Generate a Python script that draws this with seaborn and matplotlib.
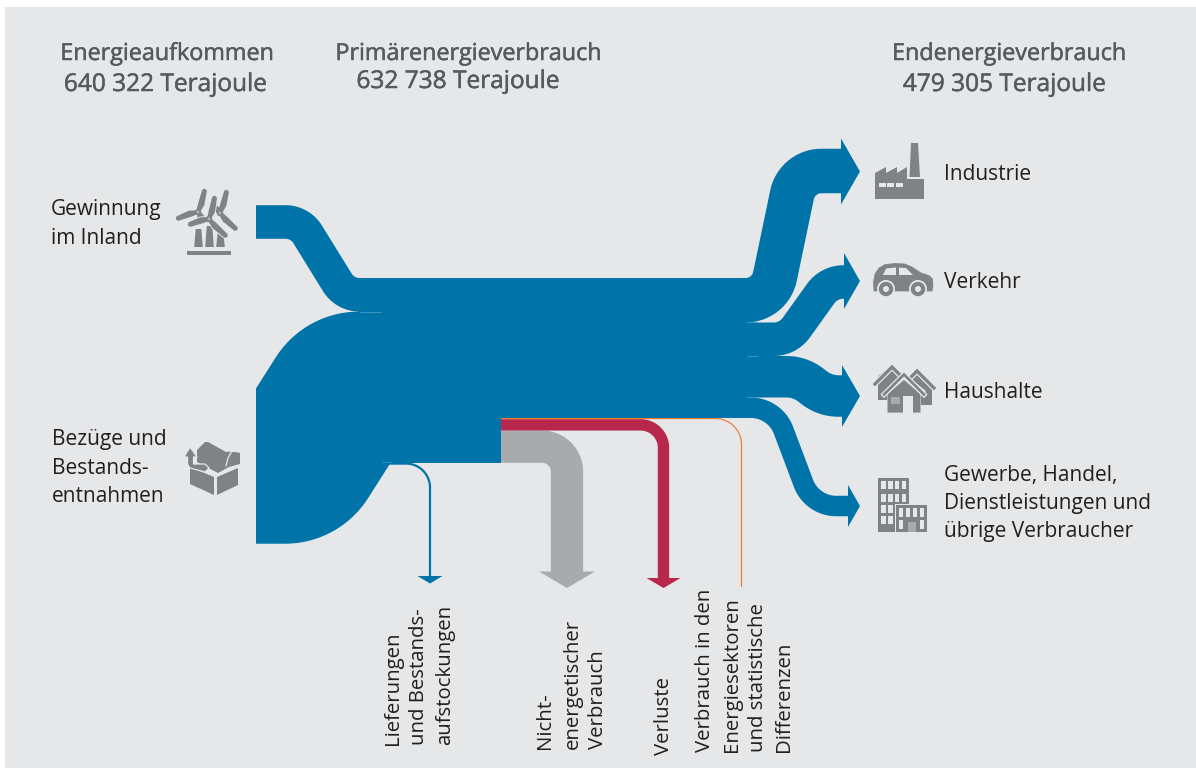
import numpy as np
import matplotlib
matplotlib.use("Agg")
import matplotlib.pyplot as plt
import matplotlib.patheffects as pe
from matplotlib.path import Path
from matplotlib.patches import PathPatch, Rectangle, Polygon, Circle
import seaborn as sns

# ---------- data (Terajoule) ----------
header_titles = ["Energieaufkommen", "Primärenergieverbrauch", "Endenergieverbrauch"]
header_values = [640322, 632738, 479305]
source_values = [115000, 525322]              # Gewinnung im Inland, Bezüge und Bestandsentnahmen
export_value = 7584                           # Lieferungen und Bestandsaufstockungen
loss_values = [4000, 39000, 110433]           # Energiesektoren, Verluste, Nichtenergetisch
end_values = [152369, 114700, 142100, 70136]  # Industrie, Verkehr, Haushalte, GHD
source_labels = [["Gewinnung", "im Inland"], ["Bezüge und", "Bestands-", "entnahmen"]]
end_labels = [["Industrie"], ["Verkehr"], ["Haushalte"],
              ["Gewerbe, Handel,", "Dienstleistungen und", "übrige Verbraucher"]]
bottom_labels = [["Lieferungen", "und Bestands-", "aufstockungen"],
                 ["Nicht-", "energetischer", "Verbrauch"],
                 ["Verluste"],
                 ["Verbrauch in den", "Energiesektoren", "und statistische", "Differenzen"]]

# ---------- style ----------
BLUE, RED, GREY, ORANGE = "#0074A8", "#B8274C", "#A9AAAD", "#F07A28"
PANEL, ICON, HEAD, INK = "#E6E7E9", "#808285", "#58595B", "#1F1F1F"
TJ_PER_PX = 640322 / 187.0

sns.set_theme(style="white")
plt.rcParams["font.family"] = ["Open Sans", "DejaVu Sans"]
fig = plt.figure(figsize=(11.96, 7.68), dpi=100, facecolor="white")
ax = fig.add_axes([0, 0, 1, 1])
ax.set_xlim(0, 1196)
ax.set_ylim(768, 0)
ax.axis("off")
ax.add_patch(Rectangle((5, 7), 1191, 761, fc=PANEL, ec="none", zorder=0))


def px(v):
    return v / TJ_PER_PX


def centerline(points, radii):
    """Polyline with rounded corners, densely sampled."""
    pts = [np.array(p, float) for p in points]
    out = [pts[0]]
    for i in range(1, len(pts) - 1):
        a, b, c = pts[i - 1], pts[i], pts[i + 1]
        u = (b - a) / np.linalg.norm(b - a)
        v = (c - b) / np.linalg.norm(c - b)
        ang = np.arccos(np.clip(u @ v, -1, 1))
        r = radii[i - 1]
        t = r * np.tan(ang / 2)
        s, e = b - u * t, b + v * t
        n = np.array([-u[1], u[0]])
        if n @ v < 0:
            n = -n
        cen = s + n * r
        for k in np.linspace(0, 1, 60):
            th = k * ang
            out.append(cen - n * r * np.cos(th) + u * r * np.sin(th))
        out.append(e)
    out.append(pts[-1])
    res = [out[0]]
    for p in out[1:]:
        q = res[-1]
        d = np.linalg.norm(p - q)
        if d < 1e-9:
            continue
        m = max(1, int(d / 2))
        for k in range(1, m + 1):
            res.append(q + (p - q) * k / m)
    return np.array(res)


def band(points, radii, width, color, z=2, clip=None):
    c = centerline(points, radii)
    d = np.gradient(c, axis=0)
    d /= np.linalg.norm(d, axis=1, keepdims=True)
    nrm = np.c_[-d[:, 1], d[:, 0]]
    a, b = c + nrm * width / 2, c - nrm * width / 2
    verts, codes = [], []
    for i in range(len(c) - 1):
        q = np.array([a[i], a[i + 1], b[i + 1], b[i]])
        area = 0.5 * np.sum(q[:, 0] * np.roll(q[:, 1], -1) - np.roll(q[:, 0], -1) * q[:, 1])
        if area < 0:
            q = q[::-1]
        verts += list(q) + [q[0]]
        codes += [Path.MOVETO, Path.LINETO, Path.LINETO, Path.LINETO, Path.CLOSEPOLY]
    patch = PathPatch(Path(np.array(verts), codes), fc=color, ec="none", zorder=z)
    ax.add_patch(patch)
    if clip is not None:
        patch.set_clip_path(Rectangle((clip[0], clip[1]), clip[2], clip[3], transform=ax.transData))
    return patch


def head_right(x_base, x_tip, yc, half, color, z=2):
    ax.add_patch(Polygon([(x_base, yc - half), (x_tip, yc), (x_base, yc + half)], fc=color, ec="none", zorder=z))


def head_down(xc, y_base, y_tip, half, color, z=2):
    ax.add_patch(Polygon([(xc - half, y_base), (xc, y_tip), (xc + half, y_base)], fc=color, ec="none", zorder=z))


# ---------- flows ----------
TOP = 278.0
w_src = [px(v) for v in source_values]
w_exp = px(export_value)
w_prim = px(header_values[1])
w_end = px(header_values[2])
y_split = TOP + w_end
y_prim = TOP + w_prim

ax.add_patch(Rectangle((358, TOP), 501 - 358, w_prim, fc=BLUE, ec="none", zorder=2))
ax.add_patch(Rectangle((501, TOP), 752 - 501, w_end, fc=BLUE, ec="none", zorder=2))

# sources
ym0 = TOP + w_src[0] / 2
band([(256, 222), (300, 222), (345, ym0), (362, ym0)], [26, 26], w_src[0], BLUE)
ym1 = TOP + w_src[0] + w_src[1] / 2
band([(256, 467), (297, 467), (347, ym1), (375, ym1)], [22, 22], w_src[1], BLUE,
     clip=(256, 200, 300, 400))

# export line
ye = y_prim + w_exp / 2 - 0.3
band([(382, ye), (430, ye), (430, 577)], [24], w_exp, BLUE)
head_down(430, 576, 583.5, 12.5, BLUE)

# losses (stacked under the end-use block)
w_l = [px(v) for v in loss_values]
y = y_split + w_l[0]
y_red = y + w_l[1] / 2
w_gr = w_l[2]
y_gr = y + w_l[1] + w_gr / 2
band([(501, y_gr), (567, y_gr), (567, 573)], [25], w_gr, GREY, z=3)
head_down(567, 571.5, 588, 28, GREY, z=3)
band([(501, y_red), (663.5, y_red), (663.5, 580)], [23], w_l[1], RED, z=4)
head_down(663.5, 578, 588, 17, RED, z=4)
y_or = y_split + w_l[0] / 2
band([(501, y_or), (741.5, y_or), (741.5, 587)], [26], w_l[0], ORANGE, z=5)

# end uses
w = [px(v) for v in end_values]
ys = TOP + np.cumsum([0] + w[:-1]) + np.array(w) / 2
band([(745, ys[0]), (770, ys[0]), (797, 171), (842, 171)], [30, 30], w[0], BLUE)
head_right(841, 860, 171.5, 33, BLUE)
band([(745, ys[1]), (788, ys[1]), (829, 282), (845, 282)], [28, 28], w[1], BLUE)
head_right(844, 860, 281, 28, BLUE)
band([(745, ys[2]), (800, ys[2]), (825, 396), (843, 396)], [40, 40], w[2], BLUE)
head_right(842, 860, 396, 31, BLUE)
band([(745, ys[3]), (775, ys[3]), (812, 506), (849, 506)], [35, 35], w[3], BLUE)
head_right(848, 860, 506, 21, BLUE)

# fine light seams where neighbouring flows part
SEAM = "#4A9CC4"
for yy in (TOP + w[0], TOP + w[0] + w[1], TOP + w[0] + w[1] + w[2]):
    ax.plot([747, 757], [yy, yy], color=SEAM, lw=0.6, zorder=6)
ax.plot([360, 381], [TOP + w_src[0]] * 2, color=SEAM, lw=0.6, zorder=6)
ax.plot([382, 392], [y_prim - 0.5] * 2, color=SEAM, lw=0.5, zorder=6)


# ---------- icons ----------
def poly(pts, fc=ICON, z=3, ec="none", lw=0):
    ax.add_patch(Polygon(pts, closed=True, fc=fc, ec=ec, lw=lw, zorder=z, joinstyle="round"))


def blade(hub, tip, z=3, outline=False):
    hub, tip = np.array(hub, float), np.array(tip, float)
    d = tip - hub
    n = np.array([-d[1], d[0]]) / np.linalg.norm(d)
    pts = [hub + n * 1.8, hub + d * 0.35 + n * 4.0, hub + d * 0.94 + n * 2.4, tip + n * 0.8, tip - n * 0.8,
           hub + d * 0.94 - n * 2.4, hub + d * 0.35 - n * 2.4, hub - n * 1.8]
    if outline:
        poly(pts, fc=PANEL, z=z, ec=PANEL, lw=1.3)
    poly(pts, z=z + 0.1)


def wind():
    ax.add_patch(Rectangle((187, 251), 44, 4.2, fc=ICON, ec="none", zorder=3))
    for x0, x1, top in ((195, 202, 229), (206, 213, 226), (217, 224, 232)):
        poly([(x0 - 0.8, 247), (x0 + 0.7, top), (x1 - 0.7, top), (x1 + 0.8, 247)])
    for hub, tips in (((198, 212), [(205, 189), (176, 219), (206, 222)]),
                      ((220, 213), [(227, 190), (237, 230), (211, 205)]),
                      ((209, 219), [(215, 196), (188, 225), (227, 237)])):
        for t in tips:
            blade(hub, t, z=3 + (hub[0] == 209), outline=True)
        ax.add_patch(Circle(hub, 3.2, fc=ICON, ec="none", zorder=5))
        ax.add_patch(Circle(hub, 1.4, fc="#B4B5B8", ec="none", zorder=5.2))


def chest():
    poly([(190, 467), (214, 477), (214, 495), (190, 484)])
    poly([(217, 477), (238, 468), (238, 485), (217, 495)])
    lid = Path([(197, 450), (205, 442), (208, 442), (226, 452), (232, 451), (240, 453), (240, 459), (240, 464),
                (229, 467), (218, 473), (197, 462), (197, 450)],
               [Path.MOVETO, Path.LINETO, Path.LINETO, Path.LINETO, Path.CURVE3, Path.CURVE3, Path.CURVE3,
                Path.LINETO, Path.LINETO, Path.LINETO, Path.LINETO, Path.CLOSEPOLY])
    ax.add_patch(PathPatch(lid, fc=ICON, ec="none", zorder=3))
    ax.plot([226, 228, 232], [466, 458, 451], color=PANEL, lw=0.9, zorder=4)
    # arrow out of the chest
    poly([(184, 457), (190, 447), (197, 457), (193.5, 457), (193.5, 464), (205, 464), (209, 468), (205, 472),
          (190, 468), (187.5, 464), (187.5, 457)], z=4, ec=PANEL, lw=0.9)


def factory():
    poly([(875, 199), (875, 173), (886, 167), (886, 173), (897, 167), (897, 173), (907, 167), (907, 179), (924, 179),
          (924, 199)])
    poly([(911, 143), (918, 143), (920, 177), (909.5, 177)])
    for x0 in (878.5, 887, 895.5):
        ax.add_patch(Rectangle((x0, 183.2), 7, 3.6, fc=PANEL, ec="none", zorder=4))


def car():
    poly([(874, 291), (873.5, 282), (875, 274), (879, 268), (885, 264.5), (895, 263.5), (905, 264), (912, 267),
          (921, 273), (929, 275.5), (932.5, 279), (933, 286), (932, 291)], ec=ICON, lw=0.5)
    poly([(883, 275), (886, 268.5), (896, 267.5), (896, 275)], fc=PANEL, z=4)
    poly([(899, 267.5), (906, 268), (913, 275), (899, 275)], fc=PANEL, z=4)
    for xc in (886, 918):
        ax.add_patch(Circle((xc, 289), 9.0, fc=PANEL, ec="none", zorder=4))
        ax.add_patch(Circle((xc, 289), 7.2, fc=ICON, ec="none", zorder=5))
        ax.add_patch(Circle((xc, 289), 3.0, fc=PANEL, ec="none", zorder=6))


def chevron(xc, yc, half, thick, z):
    poly([(xc - half - thick, yc + half), (xc, yc - thick), (xc + half + thick, yc + half), (xc + half, yc + half + thick),
          (xc, yc + thick), (xc - half, yc + half + thick)], z=z, ec=PANEL, lw=0.9)


def houses():
    poly([(878, 376), (892, 366), (904, 378), (904, 400), (878, 400)], z=3)
    poly([(906, 378), (917, 370), (932, 384), (932, 405), (906, 405)], z=3)
    chevron(892, 367, 17, 3.2, 4)
    chevron(917, 371, 17, 3.2, 4)
    poly([(885, 391), (904, 374), (926, 391), (921, 396), (921, 413), (887, 413), (887, 396)], fc=PANEL, z=4.5)
    poly([(887.5, 394), (904, 380), (920.5, 394), (920.5, 412.6), (887.5, 412.6)], z=5)
    chevron(904, 374.5, 20, 2.8, 5.5)
    ax.add_patch(Rectangle((891, 397), 9, 6.5, fc="#A9AAAD", ec="none", zorder=6))
    ax.add_patch(Rectangle((903, 396), 9.5, 17.2, fc=PANEL, ec="none", zorder=6))


def building():
    ax.add_patch(Rectangle((878, 478), 31, 54, fc=ICON, ec="none", zorder=3))
    for row in (481, 493.5, 504.5, 516):
        for col in (881.3, 888.3, 895, 901.5):
            ax.add_patch(Rectangle((col, row), 4.2, 8, fc=PANEL, ec="none", zorder=4))
    ax.add_patch(Rectangle((894.5, 503.5), 33, 29, fc=PANEL, ec="none", zorder=4.5))
    ax.add_patch(Rectangle((896, 505), 31, 27, fc=ICON, ec="none", zorder=5))
    for row, cols in ((508, (898.5, 906, 913, 920)), (520, (898.5, 920))):
        for col in cols:
            ax.add_patch(Rectangle((col, row), 4, 8.5, fc=PANEL, ec="none", zorder=6))
    ax.add_patch(Rectangle((908, 522), 8, 10, fc="#A9AAAD", ec="none", zorder=6))


wind(); chest(); factory(); car(); houses(); building()


# ---------- text ----------
def fmt(v):
    s = f"{v:,}".replace(",", " ")
    return f"{s} Terajoule"


HS, HV, LS, BS = 16.8, 17.6, 15.0, 14.65
thick = [pe.withStroke(linewidth=0.35, foreground=HEAD)]
hx = [(167, 165.5), (468.5, 458), (1009, 1004.5)]
hy = [(54, 85), (54, 82), (54, 85)]
for title, val, (x1, x2), (y1, y2) in zip(header_titles, header_values, hx, hy):
    ax.text(x1, y1, title, ha="center", va="center", fontsize=HS, color=HEAD, path_effects=thick)
    ax.text(x2, y2, fmt(val), ha="center", va="center", fontsize=HV, color=HEAD, path_effects=thick)

side = [(51, [209, 238]), (52, [439, 468, 497])]
for lines, (x, yy) in zip(source_labels, side):
    for s, yv in zip(lines, yy):
        ax.text(x, yv, s, ha="left", va="center", fontsize=LS, color=INK)

right = [(944.5, [175]), (944, [283]), (944.5, [393]), (944, [475, 503, 531])]
for lines, (x, yy) in zip(end_labels, right):
    for s, yv in zip(lines, yy):
        ax.text(x, yv, s, ha="left", va="center", fontsize=LS, color=INK)

bot = [([393, 419, 445], 745), ([545, 573, 598], 749), ([664], 755), ([705, 732, 758, 784], 752)]
for lines, (xs, yb) in zip(bottom_labels, bot):
    for s, xv in zip(lines, xs):
        ax.text(xv, yb, s, ha="center", va="bottom", rotation=90, fontsize=BS, color=INK)

fig.savefig("out.png", dpi=100, facecolor="white")
